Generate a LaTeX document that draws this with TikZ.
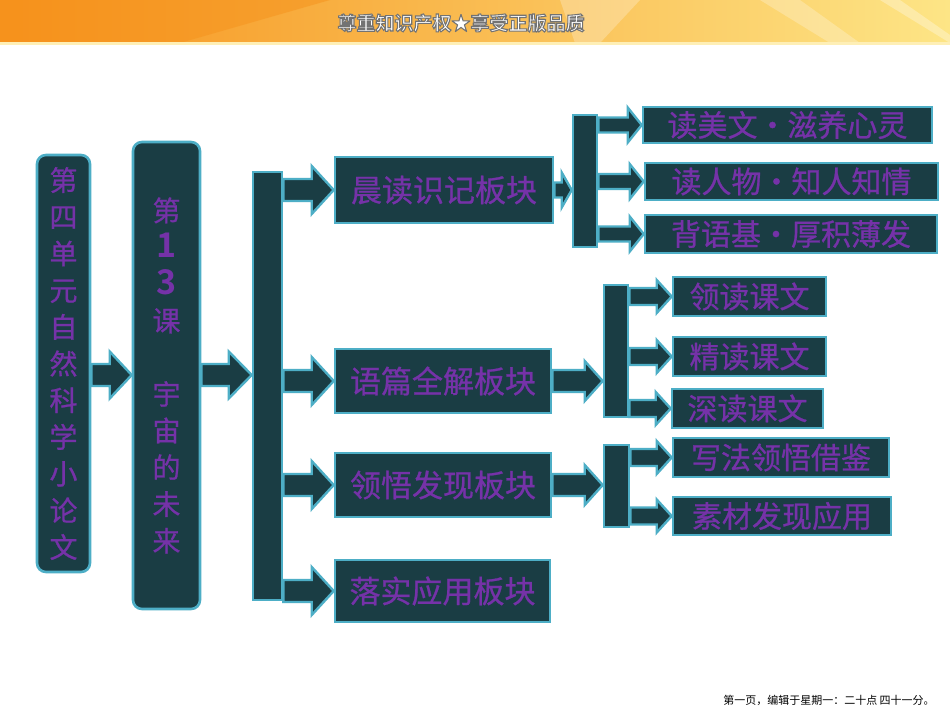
\documentclass[tikz,border=0pt]{standalone}
\usepackage{fontspec}
\newfontfamily\cjk{Noto Sans CJK SC}[BoldFont={Noto Sans CJK SC Bold}]
\newfontfamily\cjkm{Noto Sans CJK SC}[FakeBold=0.8]
\usetikzlibrary{calc}
\definecolor{boxfill}{HTML}{1A3D44}
\definecolor{boxline}{HTML}{4DAEC6}
\definecolor{txtc}{HTML}{7532A8}
\definecolor{bannerA}{HTML}{F6921C}
\definecolor{bannerB}{HTML}{FBC93A}
\definecolor{bannerC}{HTML}{FDE586}
\newcommand{\blockarr}[5]{%
  \draw[arr] let \p1=(#1), \p2=(#2) in
    (\x1,{\y1+#3}) -- ({\x2-#5},{\y1+#3}) -- ({\x2-#5},{\y1+#4}) -- (\x2,\y1)
    -- ({\x2-#5},{\y1-#4}) -- ({\x2-#5},{\y1-#3}) -- (\x1,{\y1-#3}) -- cycle;}
\tikzset{
  box/.style={draw=boxline, fill=boxfill, line width=2.6pt, inner sep=0pt, text=txtc},
  rbox/.style={box, rounded corners=9pt},
  mainbox/.style={box, minimum width=216pt, font=\cjkm\fontsize{31}{31}\selectfont},
  subbox/.style={box, font=\cjkm\fontsize{30}{30}\selectfont},
  barbox/.style={box},
  arr/.style={draw=boxline, fill=boxfill, line width=2.4pt, line join=miter},
}
\begin{document}
\begin{tikzpicture}[x=1pt,y=-1pt]
\useasboundingbox (0,0) rectangle (950,713);
\fill[white] (0,0) rectangle (950,713);
% banner
\shade[left color=bannerA, middle color=bannerB, right color=bannerC] (0,0) rectangle (950,43);
\fill[bannerA, opacity=0.5] (0,0) -- (330,0) -- (180,43) -- (0,43) -- cycle;
\fill[white, opacity=0.25] (560,0) -- (640,0) -- (600,43) -- (575,43) -- cycle;
\fill[white, opacity=0.25] (760,0) -- (800,0) -- (860,43) -- (830,43) -- cycle;
\fill[white, opacity=0.3] (880,0) -- (900,0) -- (950,35) -- (950,43) -- cycle;
\fill[bannerC!60!white] (0,42) rectangle (950,45);
\node[font=\cjk\bfseries\fontsize{19}{19}\selectfont, text=white] (banner) at (461,23)
  {\special{pdf:code q 0.45 0.45 0.45 RG 1.1 w 2 Tr}尊重知识产权★享受正版品质\special{pdf:code Q}};
% first column boxes
\node[rbox, minimum width=53pt, minimum height=417pt, align=center,
      font=\cjkm\fontsize{28}{36.7}\selectfont] (b1) at (63.5,363.5)
  {第\\四\\单\\元\\自\\然\\科\\学\\小\\论\\文};
\node[rbox, minimum width=67pt, minimum height=467pt, align=center,
      font=\cjkm\fontsize{28}{36.7}\selectfont] (b2) at (166.5,375.5)
  {第\\{\cjk\bfseries\fontsize{34}{36.7}\selectfont 1}\\{\cjk\bfseries\fontsize{34}{36.7}\selectfont 3}\\课\\[36.7pt]宇\\宙\\的\\未\\来};
\node[barbox, minimum width=29pt, minimum height=428pt] (bar1) at (267.5,386) {};
% main boxes
\node[mainbox, minimum width=218pt, minimum height=66pt] (chen) at (444,190) {晨读识记板块};
\node[mainbox, minimum height=64pt] (yu) at (443,381) {语篇全解板块};
\node[mainbox, minimum height=64pt] (ling) at (443,485) {领悟发现板块};
\node[mainbox, minimum width=215pt, minimum height=62pt] (luo) at (442.5,591) {落实应用板块};
% bars
\node[barbox, minimum width=24pt, minimum height=132pt] (bar2) at (585,181) {};
\node[barbox, minimum width=24pt, minimum height=132pt] (bar3) at (616,351) {};
\node[barbox, minimum width=25pt, minimum height=82pt] (bar4) at (616.5,486) {};
% sub boxes
\node[subbox, minimum width=289pt, minimum height=36pt] (s1) at (787.5,125) {读美文・滋养心灵};
\node[subbox, minimum width=293pt, minimum height=37pt] (s2) at (791.5,181.5) {读人物・知人知情};
\node[subbox, minimum width=292pt, minimum height=38pt] (s3) at (791,234) {背语基・厚积薄发};
\node[subbox, minimum width=153pt, minimum height=39pt] (t1) at (749.5,296.5) {领读课文};
\node[subbox, minimum width=153pt, minimum height=39pt] (t2) at (749.5,356.5) {精读课文};
\node[subbox, minimum width=151pt, minimum height=39pt] (t3) at (747.5,408.5) {深读课文};
\node[subbox, minimum width=216pt, minimum height=39pt] (u1) at (781,457.5) {写法领悟借鉴};
\node[subbox, minimum width=218pt, minimum height=38pt] (u2) at (782,516) {素材发现应用};
% arrows
\coordinate (m1) at (0,375);
\blockarr{b1.east |- m1}{b2.west |- m1}{11pt}{23.5pt}{22pt}
\blockarr{b2.east |- m1}{bar1.west |- m1}{11pt}{23.5pt}{23pt}
\blockarr{bar1.east |- chen}{chen.west}{11pt}{24pt}{22pt}
\blockarr{bar1.east |- yu}{yu.west}{11pt}{24pt}{22pt}
\blockarr{bar1.east |- ling}{ling.west}{11pt}{24pt}{22pt}
\blockarr{bar1.east |- luo}{luo.west}{11pt}{24pt}{22pt}
\blockarr{chen.east}{bar2.west |- chen}{7.5pt}{17.5pt}{10pt}
\blockarr{bar2.east |- s1}{s1.west}{7.5pt}{17.5pt}{14pt}
\blockarr{bar2.east |- s2}{s2.west}{7.5pt}{17.5pt}{14pt}
\blockarr{bar2.east |- s3}{s3.west}{7.5pt}{17.5pt}{14pt}
\blockarr{yu.east}{bar3.west |- yu}{11pt}{20pt}{18pt}
\blockarr{bar3.east |- t1}{t1.west}{8.5pt}{16.5pt}{15pt}
\blockarr{bar3.east |- t2}{t2.west}{8.5pt}{16.5pt}{15pt}
\blockarr{bar3.east |- t3}{t3.west}{8.5pt}{16.5pt}{15pt}
\blockarr{ling.east}{bar4.west |- ling}{11pt}{20pt}{18pt}
\blockarr{bar4.east |- u1}{u1.west}{8.5pt}{16.5pt}{15pt}
\blockarr{bar4.east |- u2}{u2.west}{8.5pt}{16.5pt}{15pt}
% footer
\node[font=\cjk\fontsize{11}{11}\selectfont, text=black] (foot) at (829,700) {第一页，编辑于星期一：二十点 四十一分。};
\end{tikzpicture}
\end{document}
